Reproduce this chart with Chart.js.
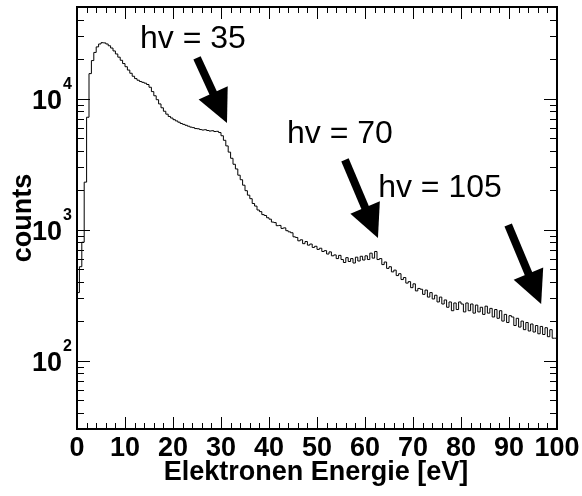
<!DOCTYPE html>
<html>
<head>
<meta charset="utf-8">
<script src="https://cdn.jsdelivr.net/npm/chart.js@4/dist/chart.umd.min.js"></script>
<style>
  body { margin: 0; background: #fff; }
  canvas { display: block; }
</style>
</head>
<body>
<canvas id="grafico" width="582" height="496"></canvas>
<script>
// Histogramm: Zählrate pro Bin (Bins zu 0.5 eV, Start bei 0 eV)
const binStart = 0;
const binWidth = 0.5;
const counts = [
  150, 330, 520, 800, 2300, 7200, 15500, 19500, 22500, 24800,
  26100, 26700, 26600, 26100, 25300, 24300, 23100, 21900, 20700, 19600,
  18500, 17500, 16500, 15600, 14800, 14200, 13800, 13500, 13300, 13100,
  12800, 12200, 11300, 10500, 9800, 9100, 8500, 8000, 7600, 7300,
  7100, 6900, 6750, 6600, 6450, 6350, 6250, 6150, 6050, 6000,
  5900, 5880, 5800, 5750, 5780, 5700, 5650, 5680, 5600, 5620,
  5500, 5200, 4800, 4350, 3900, 3500, 3150, 2900, 2600, 2400,
  2180, 1980, 1830, 1720, 1580, 1510, 1410, 1370, 1300, 1280,
  1230, 1200, 1140, 1130, 1070, 1075, 1020, 1030, 980, 960,
  945, 880, 870, 820, 835, 780, 810, 760, 775, 730,
  745, 705, 720, 680, 690, 650, 675, 630, 640, 600,
  635, 590, 560, 610, 570, 600, 555, 615, 575, 625,
  585, 630, 590, 660, 605, 680, 590, 600, 540, 565,
  505, 520, 475, 490, 445, 460, 415, 430, 390, 400,
  360, 385, 340, 355, 350, 320, 345, 305, 330, 295,
  315, 280, 305, 270, 290, 255, 280, 240, 275, 245,
  280, 270, 235, 275, 240, 270, 230, 265, 235, 255,
  225, 260, 230, 250, 215, 245, 210, 240, 200, 225,
  195, 220, 215, 185, 210, 180, 200, 172, 195, 168,
  190, 165, 185, 160, 182, 158, 178, 152, 172, 148
];

// Achsen
const xMin = 0, xMax = 100, xMajor = 10, xMinor = 2;
const yMin = 30, yMax = 50000;
const yDecades = [1, 2, 3, 4];

// Pfeile: Spitze in Daten-Koordinaten, Ende und Text als Pixel-Versatz
const pfeile = [
  { text: "hv = 35",  e: 31.25, c: 6520, dx: -30, dy: -65, tx: -87,  ty: -75 },
  { text: "hv = 70",  e: 62.7,  c: 863,  dx: -33, dy: -78, tx: -91,  ty: -95 },
  { text: "hv = 105", e: 96.7,  c: 270,  dx: -33, dy: -79, tx: -163, ty: -107 }
];

const FONT = "'Liberation Sans', Arial, Helvetica, sans-serif";

const punkte = counts.map((c, i) => ({ x: binStart + i * binWidth, y: c }));
punkte.push({ x: binStart + counts.length * binWidth, y: counts[counts.length - 1] });

function pfeil(ctx, x0, y0, x1, y1) {
  const ang = Math.atan2(y1 - y0, x1 - x0);
  const kopfLen = 33, kopfBreite = 16;
  const bx = x1 - kopfLen * Math.cos(ang), by = y1 - kopfLen * Math.sin(ang);
  ctx.beginPath();
  ctx.lineWidth = 8;
  ctx.lineCap = "butt";
  ctx.moveTo(x0, y0);
  ctx.lineTo(bx + 2 * Math.cos(ang), by + 2 * Math.sin(ang));
  ctx.stroke();
  ctx.beginPath();
  ctx.moveTo(x1, y1);
  ctx.lineTo(bx + kopfBreite * Math.sin(ang), by - kopfBreite * Math.cos(ang));
  ctx.lineTo(bx - kopfBreite * Math.sin(ang), by + kopfBreite * Math.cos(ang));
  ctx.closePath();
  ctx.fill();
}

const rahmenPlugin = {
  id: "rahmen",
  afterDraw(chart) {
    const ctx = chart.ctx;
    const a = chart.chartArea;
    const xs = chart.scales.x, ys = chart.scales.y;
    ctx.save();
    ctx.strokeStyle = "#000";
    ctx.fillStyle = "#000";

    // Ticks unten/oben
    ctx.lineWidth = 1;
    for (let v = xMin; v <= xMax; v += xMinor) {
      const px = Math.round(xs.getPixelForValue(v)) + 0.5;
      const len = v % xMajor === 0 ? 12 : 6;
      ctx.beginPath();
      ctx.moveTo(px, a.bottom); ctx.lineTo(px, a.bottom - len);
      ctx.moveTo(px, a.top); ctx.lineTo(px, a.top + len);
      ctx.stroke();
    }
    // Ticks links/rechts (log)
    for (let d = 0; d <= 5; d++) {
      for (let m = 1; m <= 9; m++) {
        const v = m * Math.pow(10, d);
        if (v < yMin || v > yMax) continue;
        const py = Math.round(ys.getPixelForValue(v)) + 0.5;
        const len = m === 1 ? 13 : 7;
        ctx.beginPath();
        ctx.moveTo(a.left, py); ctx.lineTo(a.left + len, py);
        ctx.moveTo(a.right, py); ctx.lineTo(a.right - len, py);
        ctx.stroke();
      }
    }

    // Rahmen
    ctx.lineWidth = 2;
    ctx.strokeRect(a.left, a.top, a.right - a.left, a.bottom - a.top);

    // x-Beschriftung
    ctx.font = "bold 27px " + FONT;
    ctx.textAlign = "center";
    ctx.textBaseline = "alphabetic";
    for (let v = xMin; v <= xMax; v += xMajor) {
      ctx.fillText(String(v), xs.getPixelForValue(v), a.bottom + 27);
    }
    ctx.fillText("Elektronen Energie [eV]", (a.left + a.right) / 2 - 1, a.bottom + 51);

    // y-Beschriftung 10^n
    yDecades.forEach(n => {
      const v = Math.pow(10, n);
      if (v < yMin || v > yMax) return;
      const py = ys.getPixelForValue(v);
      ctx.font = "bold 27px " + FONT;
      ctx.textAlign = "right";
      ctx.fillText("10", a.left - 15, py + 10);
      ctx.font = "bold 16px " + FONT;
      ctx.textAlign = "left";
      ctx.fillText(String(n), a.left - 14, py - 10);
    });

    // y-Titel
    ctx.save();
    ctx.translate(24, 218);
    ctx.rotate(-Math.PI / 2);
    ctx.font = "bold 27px " + FONT;
    ctx.textAlign = "center";
    ctx.textBaseline = "middle";
    ctx.fillText("counts", 0, 0);
    ctx.restore();

    // Pfeile + Texte
    ctx.font = "32px " + FONT;
    ctx.textAlign = "left";
    ctx.textBaseline = "alphabetic";
    pfeile.forEach(p => {
      const x1 = xs.getPixelForValue(p.e), y1 = ys.getPixelForValue(p.c);
      pfeil(ctx, x1 + p.dx, y1 + p.dy, x1, y1);
      ctx.fillText(p.text, x1 + p.tx, y1 + p.ty);
    });
    ctx.restore();
  }
};

new Chart(document.getElementById("grafico").getContext("2d"), {
  type: "line",
  data: {
    datasets: [{
      data: punkte,
      stepped: "after",
      borderColor: "#000",
      borderWidth: 1,
      pointRadius: 0,
      fill: false
    }]
  },
  options: {
    responsive: false,
    animation: false,
    layout: { padding: { top: 7, right: 25, left: 0, bottom: 0 } },
    plugins: { legend: { display: false }, tooltip: { enabled: false } },
    scales: {
      x: {
        type: "linear", min: xMin, max: xMax,
        grid: { display: false }, border: { display: false },
        ticks: { display: false },
        afterFit(s) { s.height = 67; }
      },
      y: {
        type: "logarithmic", min: yMin, max: yMax,
        grid: { display: false }, border: { display: false },
        ticks: { display: false },
        afterFit(s) { s.width = 77; }
      }
    }
  },
  plugins: [rahmenPlugin]
});
</script>
</body>
</html>
